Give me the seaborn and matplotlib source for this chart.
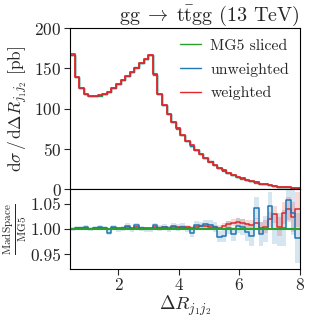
import numpy as np
import seaborn as sns
import matplotlib
matplotlib.use("Agg")
import matplotlib.pyplot as plt

# bin edges of the histogram (Delta R)
edges = np.linspace(0.4, 8.0, 51)

# MG5 sliced reference [pb]
mg5 = [167, 139, 125, 118, 115, 115, 116, 118, 121, 125,
       130, 135, 140, 145, 150, 156, 161, 166, 142, 118,
       104, 93, 83, 75, 67, 60, 54, 48, 43, 38,
       34, 30, 26.5, 23, 20, 17.5, 15, 13, 11, 9.5,
       8, 6.7, 5.6, 4.6, 3.8, 3.0, 2.4, 1.9, 1.4, 1.0]

# MadSpace / MG5 ratios
ratio_unw = [1.000, 1.003, 1.002, 1.005, 1.000, 1.003, 1.004, 1.002, 0.993, 1.004,
             1.000, 1.002, 1.007, 1.000, 1.008, 1.002, 1.000, 1.000, 1.008, 1.002,
             1.005, 1.000, 1.006, 1.003, 1.005, 1.002, 0.993, 1.008, 1.006, 1.010,
             1.008, 1.005, 0.985, 0.987, 1.003, 0.990, 1.007, 1.005, 0.995, 0.987,
             1.043, 0.990, 1.000, 1.047, 1.000, 1.000, 1.003, 1.058, 1.033, 0.983]
err_unw = [0.004, 0.004, 0.004, 0.004, 0.004, 0.004, 0.004, 0.004, 0.005, 0.005,
           0.005, 0.005, 0.005, 0.005, 0.005, 0.005, 0.005, 0.005, 0.005, 0.006,
           0.006, 0.006, 0.006, 0.007, 0.007, 0.007, 0.008, 0.008, 0.008, 0.009,
           0.010, 0.010, 0.011, 0.012, 0.013, 0.014, 0.015, 0.016, 0.018, 0.020,
           0.022, 0.024, 0.026, 0.028, 0.030, 0.033, 0.036, 0.040, 0.045, 0.050]

ratio_w = [1.001, 1.002, 1.002, 1.003, 1.001, 1.002, 1.003, 1.002, 1.001, 1.003,
           1.002, 1.003, 1.004, 1.002, 1.004, 1.003, 1.002, 1.003, 1.005, 1.003,
           1.004, 1.003, 1.005, 1.004, 1.005, 1.004, 1.003, 1.005, 1.006, 1.006,
           1.005, 1.004, 1.003, 1.006, 1.010, 1.013, 1.015, 1.012, 1.010, 1.008,
           1.012, 1.003, 1.005, 1.020, 1.030, 1.005, 1.032, 1.040, 1.025, 1.040]
err_w = [0.002, 0.002, 0.002, 0.002, 0.002, 0.002, 0.002, 0.002, 0.002, 0.002,
         0.002, 0.002, 0.002, 0.002, 0.002, 0.002, 0.002, 0.002, 0.002, 0.003,
         0.003, 0.003, 0.003, 0.003, 0.003, 0.003, 0.004, 0.004, 0.004, 0.004,
         0.005, 0.005, 0.005, 0.006, 0.006, 0.007, 0.007, 0.008, 0.009, 0.010,
         0.011, 0.012, 0.013, 0.015, 0.017, 0.019, 0.022, 0.025, 0.030, 0.035]

labels = ["MG5 sliced", "unweighted", "weighted"]
colors = ["#2ca02c", "#1f77b4", "#e0282a"]

sns.set_theme(style="ticks")
plt.rcParams["font.family"] = "serif"
plt.rcParams["font.serif"] = ["cmr10"]
plt.rcParams["mathtext.fontset"] = "cm"
plt.rcParams["axes.formatter.use_mathtext"] = True
plt.rcParams["axes.unicode_minus"] = False


def step(a):
    return np.append(a, a[-1])


mg5 = np.array(mg5)
ratio_unw = np.array(ratio_unw)
ratio_w = np.array(ratio_w)
err_unw = np.array(err_unw)
err_w = np.array(err_w)
ones = np.ones_like(mg5)

fig = plt.figure(figsize=(3.19, 3.19), dpi=100)
ax1 = fig.add_axes([0.2194, 0.4075, 0.721, 0.5047])
ax2 = fig.add_axes([0.2194, 0.1567, 0.721, 0.2508], sharex=ax1)

# main panel
curves = [mg5, mg5 * ratio_unw, mg5 * ratio_w]
for y, lab, c, lw in zip(curves, labels, colors, [1.0, 1.0, 1.3]):
    sns.lineplot(x=edges, y=step(y), drawstyle="steps-post", color=c, lw=lw,
                 label=lab, ax=ax1)
ax1.set_xlim(0.4, 8)
ax1.set_ylim(0, 200)
ax1.set_yticks([0, 50, 100, 150, 200])
ax1.tick_params(axis="x", labelbottom=False, length=0)
ax1.tick_params(axis="y", labelsize=12.5, length=4, width=0.8, pad=2)
ax1.set_ylabel(r"$\mathrm{d}\sigma\,/\,\mathrm{d}\Delta R_{j_1 j_2}$ [pb]", fontsize=12.5, labelpad=3)
ax1.set_xlabel("")
ax1.set_title(r"$\mathrm{gg}\;\rightarrow\;\mathrm{t\bar{t}gg}$ (13 TeV)", loc="right",
              fontsize=14.5, pad=2)
leg = ax1.legend(loc="upper right", frameon=False, fontsize=11.3, handlelength=1.3,
                 handletextpad=0.6, labelspacing=0.6, borderaxespad=0.3)
for h in leg.get_lines():
    h.set_linewidth(1.0)

# ratio panel
for r, e, c in [(ratio_unw, err_unw, colors[1]), (ratio_w, err_w, colors[2])]:
    ax2.fill_between(edges, step(r - e), step(r + e), step="post", color=c,
                     alpha=0.18, lw=0)
sns.lineplot(x=edges, y=step(ratio_w), drawstyle="steps-post", color=colors[2], lw=1.1, ax=ax2)
sns.lineplot(x=edges, y=step(ratio_unw), drawstyle="steps-post", color=colors[1], lw=1.1, ax=ax2)
sns.lineplot(x=edges, y=step(ones), drawstyle="steps-post", color=colors[0], lw=1.5, ax=ax2)
ax2.set_ylim(0.921, 1.08)
ax2.set_yticks([0.95, 1.00, 1.05])
ax2.yaxis.set_major_formatter(matplotlib.ticker.FormatStrFormatter("%.2f"))
ax2.set_xticks([2, 4, 6, 8])
ax2.tick_params(axis="both", labelsize=12.5, length=4, width=0.8, pad=2)
ax2.set_ylabel(r"$\frac{\mathrm{MadSpace}}{\mathrm{MG5}}$", fontsize=11.5, labelpad=1)
ax2.set_xlabel(r"$\Delta R_{j_1 j_2}$", fontsize=13.5, labelpad=0)

for ax in (ax1, ax2):
    for s in ax.spines.values():
        s.set_linewidth(0.8)
        s.set_color("black")

fig.savefig("out.png", dpi=100)
